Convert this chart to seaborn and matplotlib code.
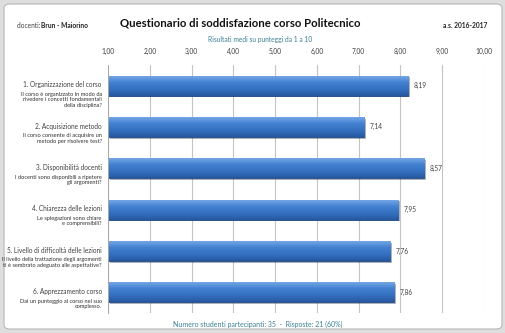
import numpy as np
import pandas as pd
import matplotlib
matplotlib.use('Agg')
import matplotlib.pyplot as plt
from matplotlib.patches import FancyBboxPatch
import matplotlib.patheffects as pe
import seaborn as sns

# Data
categories = ['1. Organizzazione del corso',
              '2. Acquisizione metodo',
              '3. Disponibilità docenti',
              '4. Chiarezza delle lezioni',
              '5. Livello di difficoltà delle lezioni',
              '6. Apprezzamento corso']
questions = ['Il corso è organizzato in modo da\nrivedere i concetti fondamentali\ndella disciplina?',
             'Il corso consente di acquisire un\nmetodo per risolvere test?',
             'I docenti sono disponibili a ripetere\ngli argomenti?',
             'Le spiegazioni sono chiare\ne comprensibili?',
             'Il livello della trattazione degli argomenti\nti è sembrato adeguato alle aspettative?',
             'Dai un punteggio al corso nel suo\ncomplesso.']
scores = [8.19, 7.14, 8.57, 7.95, 7.76, 7.86]
ticks = [1, 2, 3, 4, 5, 6, 7, 8, 9, 10]

df = pd.DataFrame({'domanda': categories, 'media': scores})

sns.set_style('white')
plt.rcParams['font.family'] = ['Lato', 'DejaVu Sans']

grey_txt = '#404040'
teal = '#3a7f94'

fig = plt.figure(figsize=(5.05, 3.33), dpi=100)
fig.patch.set_facecolor('#dedede')
frame = FancyBboxPatch((0.008, 0.012), 0.986, 0.976, boxstyle='round,pad=0,rounding_size=0.012',
                       transform=fig.transFigure, facecolor='white', edgecolor='#b8b8b8', lw=0.8,
                       zorder=-10)
fig.patches.append(frame)

ax = fig.add_axes([0.214, 0.06, 0.744, 0.745])
ax.set_facecolor('none')
sns.barplot(data=df, x='media', y='domanda', orient='h', width=0.48,
            color='#3a74c6', edgecolor='#1f4b8a', linewidth=0.6, ax=ax)

ax.set_xticks(ticks)
ax.set_xticklabels([f'{t:.2f}'.replace('.', ',') for t in ticks], fontsize=4.8, color=grey_txt)
ax.xaxis.tick_top()
ax.tick_params(axis='x', length=0, pad=7)
ax.grid(axis='x', color='#c4c4c4', lw=0.8)
ax.set_axisbelow(True)
ax.set_xlabel('')
ax.set_ylabel('')

# left axis with ticks on the category boundaries
ax.set_yticks([])
ax.set_yticks(np.arange(-0.5, len(categories)), minor=True)
ax.tick_params(axis='y', which='minor', length=3, color='#a0a0a0', width=0.6, direction='out',
               labelleft=False)
for s in ['top', 'right', 'bottom']:
    ax.spines[s].set_visible(False)
ax.spines['left'].set_color('#a8a8a8')
ax.spines['left'].set_linewidth(0.7)
ax.spines['left'].set_zorder(6)

xmin = ticks[0]
# bars start at the axis origin (1,00): trim the patches, then gradient + shadow
grad = np.linspace(0, 1, 64).reshape(-1, 1)
cmap = matplotlib.colors.LinearSegmentedColormap.from_list(
    'bar', ['#74a6e6', '#4280d0', '#3570c0', '#26589f'])
for p in ax.patches:
    x1 = p.get_x() + p.get_width()
    p.set_x(xmin)
    p.set_width(x1 - xmin)
    y0, h = p.get_y(), p.get_height()
    p.set_path_effects([pe.SimplePatchShadow(offset=(1.2, -1.2), alpha=0.35), pe.Normal()])
    im = ax.imshow(grad, extent=(xmin, x1, y0 + h, y0), cmap=cmap, aspect='auto',
                   origin='upper', zorder=p.get_zorder() + 0.1)
    im.set_clip_path(p)
ax.set_xlim(ticks[0], ticks[-1])
ax.set_ylim(len(categories) - 0.5, -0.5)
ax.set_aspect('auto')

# value labels
ax.bar_label(ax.containers[0], labels=[f'{v:.2f}'.replace('.', ',') for v in scores],
             padding=4, fontsize=4.8, color=grey_txt, zorder=5)

# category labels with questions
for i, (cat, q) in enumerate(zip(categories, questions)):
    ax.annotate(cat, xy=(0, i), xycoords=('axes fraction', 'data'), xytext=(-4.5, 0.5),
                textcoords='offset points', ha='right', va='center', fontsize=4.7, color=grey_txt)
    ax.annotate(q, xy=(0, i), xycoords=('axes fraction', 'data'), xytext=(-4.5, -4.5),
                textcoords='offset points', ha='right', va='top', fontsize=4.1, color='#303030',
                linespacing=1.12, multialignment='right')

# header and footer
fig.text(0.475, 0.93, 'Questionario di soddisfazione corso Politecnico', ha='center', va='center',
         fontsize=8.2, fontweight='bold', color='#111111')
fig.text(0.033, 0.923, 'docenti: ', ha='left', va='center', fontsize=4.8, color=grey_txt)
fig.text(0.082, 0.923, 'Brun - Maiorino', ha='left', va='center', fontsize=4.8,
         fontweight='bold', color='#222222')
fig.text(0.966, 0.923, 'a.s. 2016-2017', ha='right', va='center', fontsize=4.8,
         fontweight='bold', color='#222222')
fig.text(0.515, 0.88, 'Risultati medi su punteggi da 1 a 10', ha='center', va='center',
         fontsize=4.8, color=teal)
fig.text(0.51, 0.027, 'Numero studenti partecipanti: 35  -  Risposte: 21 (60%)', ha='center',
         va='center', fontsize=5.0, color=teal)

fig.savefig('out.png', dpi=100, facecolor=fig.get_facecolor())
